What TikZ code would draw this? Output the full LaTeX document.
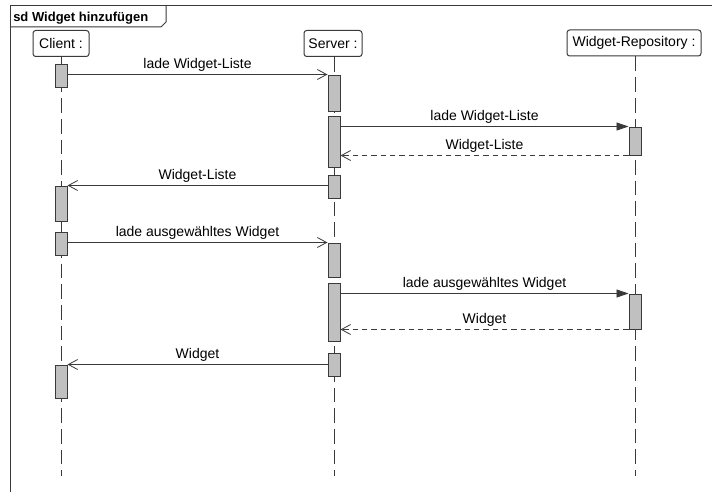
\documentclass[tikz,border=0pt]{standalone}
\usepackage{fontspec}
\setmainfont{Liberation Sans}
\usetikzlibrary{arrows.meta}
\definecolor{linec}{HTML}{3A3A3A}
\definecolor{actfill}{HTML}{C0C0C0}
\tikzset{
  part/.style={draw=linec, line width=0.75pt, rounded corners=2pt, fill=white, minimum height=19.5pt, inner sep=1pt, font=\fontsize{10.5}{12}\selectfont},
  act/.style={draw=linec, line width=0.75pt, fill=actfill, minimum width=9pt, inner sep=0pt},
  lifeline/.style={draw=linec, line width=0.75pt, dash pattern=on 11pt off 4.5pt},
  msg/.style={draw=linec, line width=0.6pt, -{Straight Barb[length=7pt,width=7.5pt,line width=0.6pt]}},
  syncmsg/.style={draw=linec, line width=0.6pt, -{Triangle[length=9pt,width=6pt]}},
  retmsg/.style={draw=linec, line width=0.6pt, dash pattern=on 4pt off 3pt, -{Straight Barb[length=7pt,width=7.5pt,line width=0.6pt]}},
  lbl/.style={font=\fontsize{10.5}{12}\selectfont, anchor=base, yshift=4.5pt, inner sep=0pt}
}
\begin{document}
\begin{tikzpicture}[x=0.75pt,y=-0.75pt]
\useasboundingbox[fill=white] (0,0) rectangle (712,492);
% frame
\coordinate (fbl) at (10,492);
\coordinate (ftl) at (10,6);
\coordinate (ftr) at (712,6);
\draw[linec, line width=0.75pt] (fbl) -- (ftl) -- (ftr);
\coordinate (t1) at (166,6);
\coordinate (t2) at (166,22);
\coordinate (t3) at (161,27);
\coordinate (t4) at (10,27);
\draw[linec, line width=0.75pt] (t1) -- (t2) -- (t3) -- (t4);
\node[anchor=base west, inner sep=0pt, font=\fontsize{9.75}{11}\selectfont\bfseries] (title) at (13,21.5) {sd Widget hinzufügen};
% participants
\node[part, minimum width=42pt] (client) at (61,43.5) {Client :};
\node[part, minimum width=43.5pt] (server) at (333,43.5) {Server :};
\node[part, minimum width=100.5pt] (repo) at (634,43) {Widget-Repository :};
% lifelines
\coordinate (cend) at (61,476);
\coordinate (send) at (334,476);
\coordinate (rend) at (635,476);
\draw[lifeline] (client.south -| cend) -- (cend);
\draw[lifeline] (server.south -| send) -- (send);
\draw[lifeline] (repo.south -| rend) -- (rend);
% activations
\node[act, minimum height=17.25pt] (c1) at (61,75.5) {};
\node[act, minimum height=26.25pt] (c2) at (61,203.5) {};
\node[act, minimum height=17.25pt] (c3) at (61,243.5) {};
\node[act, minimum height=24.75pt] (c4) at (61,381.5) {};
\node[act, minimum height=27pt] (s1) at (334,93) {};
\node[act, minimum height=38.25pt] (s2) at (334,141.5) {};
\node[act, minimum height=17.25pt] (s3) at (334,186.5) {};
\node[act, minimum height=25.5pt] (s4) at (334,260) {};
\node[act, minimum height=43.5pt] (s5) at (334,312) {};
\node[act, minimum height=17.25pt] (s6) at (334,364.5) {};
\node[act, minimum height=21pt] (r1) at (635,141) {};
\node[act, minimum height=26.25pt] (r2) at (635,311.5) {};
% messages
\draw[msg] (c1.east |- s1.north west) -- node[lbl] {lade Widget-Liste} (s1.north west);
\draw[syncmsg] (s2.east |- r1.north west) -- node[lbl] {lade Widget-Liste} (r1.north west);
\draw[retmsg] (r1.south west) -- node[lbl] {Widget-Liste} (s2.east |- r1.south west);
\draw[msg] (s3.west |- c2.north east) -- node[lbl] {Widget-Liste} (c2.north east);
\draw[msg] (c3.east |- s4.north west) -- node[lbl] {lade ausgewähltes Widget} (s4.north west);
\draw[syncmsg] (s5.east |- r2.north west) -- node[lbl] {lade ausgewähltes Widget} (r2.north west);
\draw[retmsg] (r2.south west) -- node[lbl] {Widget} (s5.east |- r2.south west);
\draw[msg] (s6.west |- c4.north east) -- node[lbl] {Widget} (c4.north east);
\end{tikzpicture}
\end{document}
